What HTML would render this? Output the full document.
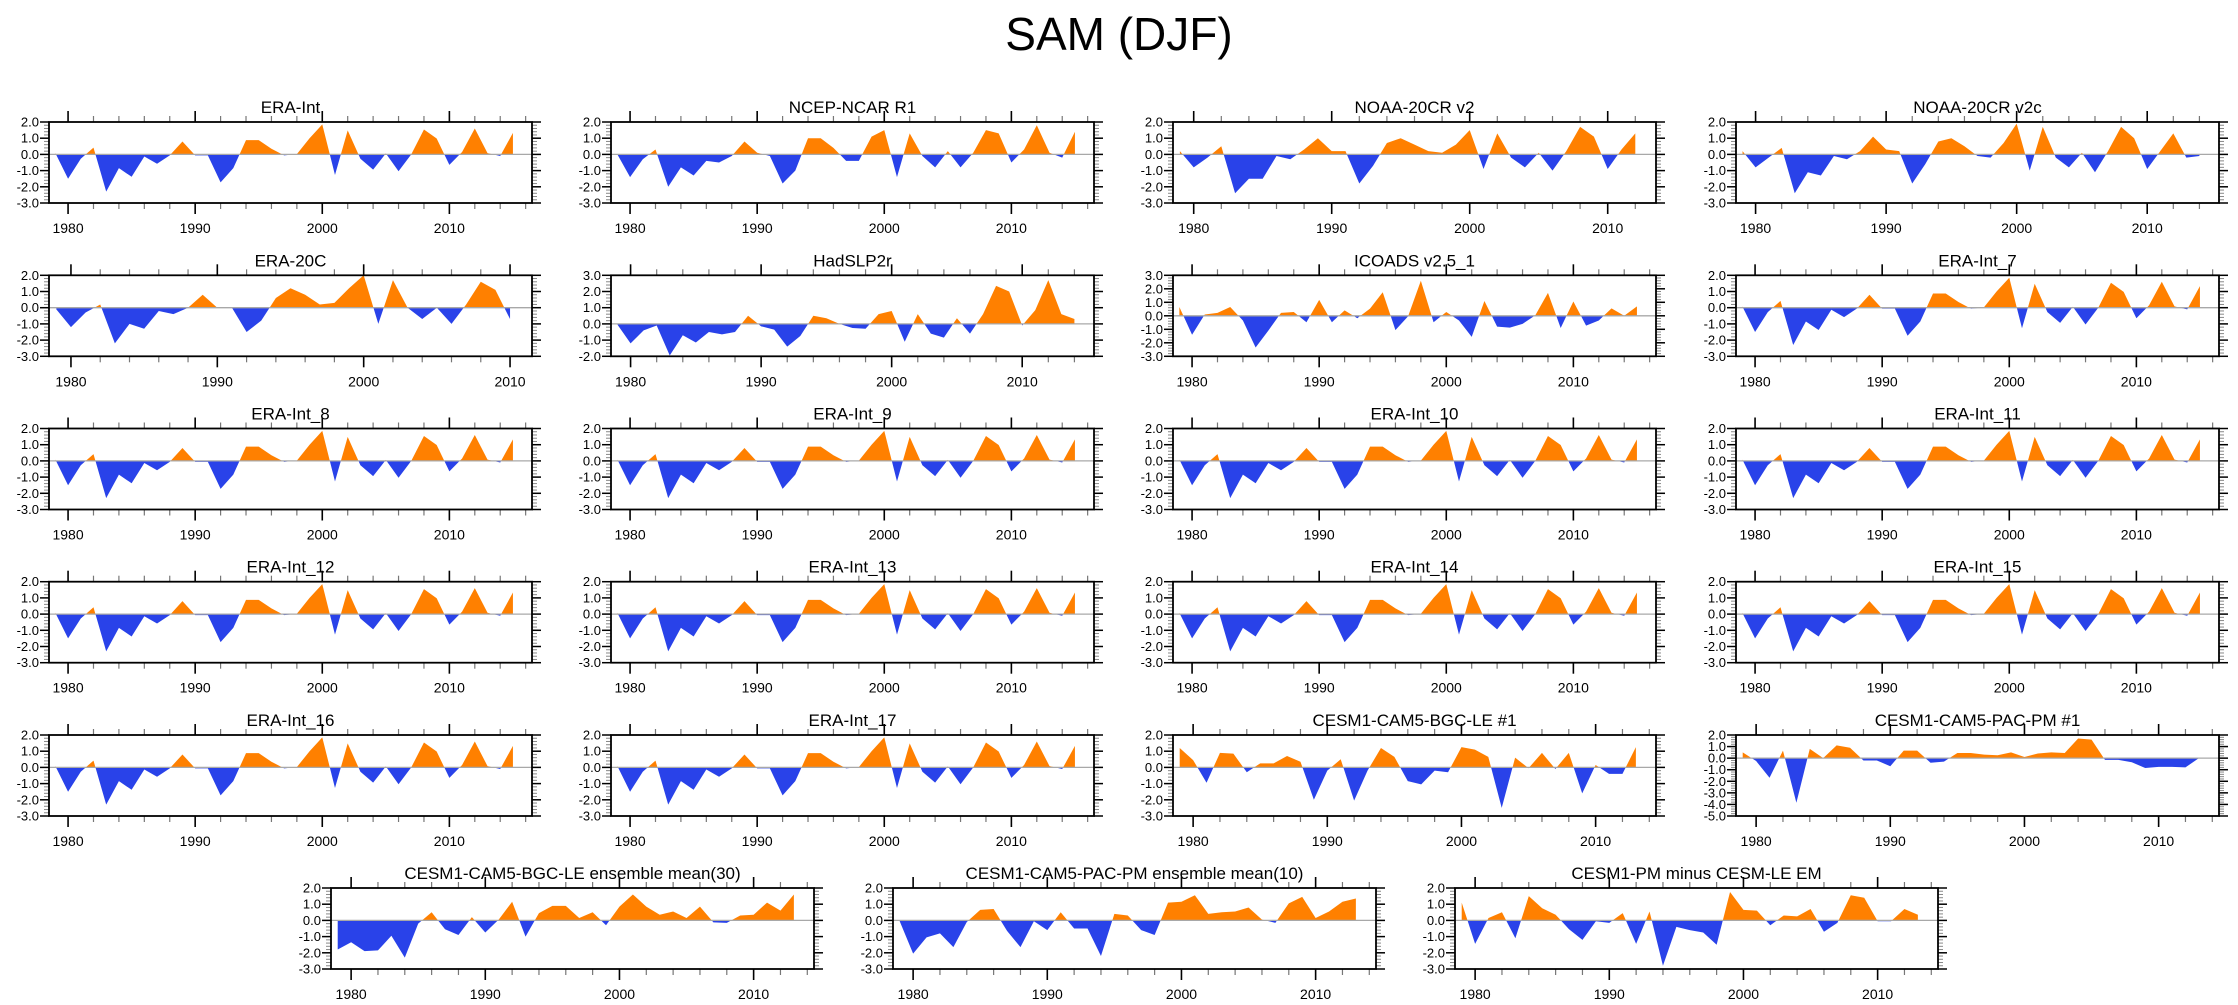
<!DOCTYPE html>
<html><head><meta charset="utf-8"><title>SAM (DJF)</title>
<style>
html,body{margin:0;padding:0;background:#fff;}
body{width:2238px;height:1005px;overflow:hidden;}
svg{display:block;font-family:"Liberation Sans",sans-serif;}
</style></head>
<body>
<svg id="fig" width="2238" height="1005" viewBox="0 0 2238 1005" xmlns="http://www.w3.org/2000/svg">
<text x="1119" y="50" text-anchor="middle" font-size="46">SAM (DJF)</text>
</svg>
<script>
const startYear = 1979;
const sEraInt = [0.08,-1.5,-0.27,0.42,-2.3,-0.85,-1.38,-0.13,-0.58,-0.06,0.8,-0.06,-0.06,-1.73,-0.85,0.88,0.88,0.35,-0.06,0.02,1.0,1.85,-1.27,1.48,-0.27,-0.94,0.06,-1.04,0,1.54,0.98,-0.65,0.15,1.6,0.08,-0.1,1.33];
const sNcep = [0.0,-1.4,-0.3,0.3,-2.0,-0.8,-1.3,-0.4,-0.5,-0.1,0.8,0.1,-0.1,-1.8,-1.0,1.0,1.0,0.4,-0.4,-0.4,1.1,1.5,-1.4,1.3,-0.1,-0.8,0.2,-0.8,0.1,1.5,1.3,-0.5,0.3,1.8,0.1,-0.2,1.4];
const sNoaaV2 = [0.2,-0.8,-0.2,0.5,-2.4,-1.5,-1.5,-0.1,-0.3,0.3,1.0,0.2,0.2,-1.8,-0.7,0.7,1.0,0.6,0.2,0.1,0.6,1.5,-0.9,1.3,-0.2,-0.8,0.1,-1.0,0.2,1.7,1.1,-0.9,0.3,1.3];
const sNoaaV2c = [0.2,-0.8,-0.2,0.4,-2.4,-1.1,-1.3,-0.1,-0.3,0.2,1.1,0.3,0.2,-1.8,-0.6,0.8,1.0,0.5,-0.1,-0.2,0.7,1.9,-1.0,1.7,-0.2,-0.8,0.1,-1.1,0.2,1.7,1.0,-0.9,0.2,1.3,-0.2,-0.1];
const sEra20c = [-0.1,-1.2,-0.3,0.2,-2.2,-1.0,-1.3,-0.2,-0.4,0.0,0.8,0.0,0.0,-1.5,-0.8,0.6,1.2,0.8,0.2,0.3,1.2,2.0,-1.0,1.7,0.0,-0.7,0.0,-1.0,0.2,1.6,1.1,-0.7];
const sHad = [-0.05,-1.2,-0.4,-0.1,-1.95,-0.7,-1.15,-0.5,-0.65,-0.5,0.5,-0.15,-0.35,-1.4,-0.75,0.5,0.35,0,-0.25,-0.3,0.6,0.8,-1.1,0.6,-0.6,-0.85,0.35,-0.6,0.6,2.35,2.0,-0.1,0.85,2.7,0.6,0.3];
const sIcoads = [0.65,-1.4,0.1,0.22,0.65,-0.35,-2.35,-1.1,0.22,0.28,-0.48,1.18,-0.48,0.4,-0.18,0.53,1.74,-1.06,-0.03,2.6,-0.48,0.28,-0.35,-1.56,1.1,-0.8,-0.88,-0.6,0.03,1.7,-0.9,1.06,-0.73,-0.35,0.55,0,0.7];
const sBgc1 = [1.2,0.45,-0.95,0.9,0.85,-0.3,0.25,0.25,0.7,0.35,-2.0,-0.2,0.5,-2.05,-0.2,1.2,0.65,-0.85,-1.05,-0.2,-0.3,1.25,1.1,0.65,-2.5,0.6,-0.05,0.9,-0.1,0.9,-1.6,0.15,-0.4,-0.4,1.25];
const sPac1 = [0.5,-0.25,-1.7,0.65,-3.85,0.8,0,1.1,0.9,-0.2,-0.2,-0.7,0.65,0.65,-0.4,-0.3,0.45,0.45,0.3,0.25,0.5,0.1,0.4,0.5,0.45,1.7,1.6,-0.15,-0.15,-0.35,-0.85,-0.75,-0.75,-0.8,0];
const sBgcEm = [-1.8,-1.35,-1.9,-1.85,-0.95,-2.3,-0.2,0.5,-0.55,-0.9,0.2,-0.75,0.05,1.15,-1.0,0.45,0.9,0.9,0.15,0.5,-0.3,0.85,1.6,0.85,0.35,0.55,0.15,0.85,-0.12,-0.15,0.3,0.35,1.1,0.6,1.6];
const sPacEm = [-0.05,-2.05,-1.05,-0.8,-1.65,-0.1,0.65,0.7,-0.65,-1.65,-0.05,-0.6,0.5,-0.5,-0.5,-2.2,0.4,0.3,-0.6,-0.9,1.1,1.15,1.55,0.4,0.5,0.55,0.8,0.05,-0.15,1.05,1.45,0.15,0.55,1.15,1.35];
const sDiff = [1.1,-1.45,0.15,0.5,-1.1,1.5,0.75,0.35,-0.55,-1.2,-0.05,-0.15,0.45,-1.45,0.55,-2.8,-0.4,-0.6,-0.75,-1.5,1.75,0.65,0.6,-0.3,0.3,0.25,0.7,-0.7,-0.15,1.55,1.4,-0.05,-0.05,0.7,0.35];

const panelTitles = ["ERA-Int","NCEP-NCAR R1","NOAA-20CR v2","NOAA-20CR v2c","ERA-20C","HadSLP2r","ICOADS v2.5_1","ERA-Int_7","ERA-Int_8","ERA-Int_9","ERA-Int_10","ERA-Int_11","ERA-Int_12","ERA-Int_13","ERA-Int_14","ERA-Int_15","ERA-Int_16","ERA-Int_17","CESM1-CAM5-BGC-LE #1","CESM1-CAM5-PAC-PM #1","CESM1-CAM5-BGC-LE ensemble mean(30)","CESM1-CAM5-PAC-PM ensemble mean(10)","CESM1-PM minus CESM-LE EM"];
const panelSeries = [sEraInt,sNcep,sNoaaV2,sNoaaV2c,sEra20c,sHad,sIcoads,sEraInt,sEraInt,sEraInt,sEraInt,sEraInt,sEraInt,sEraInt,sEraInt,sEraInt,sEraInt,sEraInt,sBgc1,sPac1,sBgcEm,sPacEm,sDiff];
const panelYMax = [2,2,2,2,2,3,3,2,2,2,2,2,2,2,2,2,2,2,2,2,2,2,2];
const panelYMin = [-3,-3,-3,-3,-3,-2,-3,-3,-3,-3,-3,-3,-3,-3,-3,-3,-3,-3,-3,-5,-3,-3,-3];
const xTickYears = [1980,1990,2000,2010];

const NS = "http://www.w3.org/2000/svg";
const svg = document.getElementById("fig");
const colLeft = [49,611,1173,1736];
const rowTop = [122,275.3,428.5,581.7,735];
const bottomLeft = [331,893,1455];
const bottomTop = 888;
const W = 483, H = 81;
const ORANGE = "#ff8000", BLUE = "#2942e9";

function mk(tag, attrs, parent){
  const e = document.createElementNS(NS, tag);
  for (const k in attrs) e.setAttribute(k, attrs[k]);
  parent.appendChild(e);
  return e;
}

function drawPanel(i, left, top){
  const data = panelSeries[i];
  const yMax = panelYMax[i], yMin = panelYMin[i];
  const xMin = startYear - 0.5;
  const xMax = startYear + data.length - 1 + 1.5;
  const sx = y => left + (y - xMin) / (xMax - xMin) * W;
  const sy = v => top + (yMax - v) / (yMax - yMin) * H;

  const g = document.createElementNS(NS, "g");
  
  
  svg.appendChild(g);

  const t = mk("text", {x: left + W/2, y: top - 9, "text-anchor": "middle", "font-size": 17}, g);
  
  
  t.textContent = panelTitles[i];

  // points with zero crossings
  const pts = [];
  for (let k = 0; k < data.length; k++){
    const yr = startYear + k, v = data[k];
    if (k > 0){
      const pv = data[k-1];
      if ((pv > 0 && v < 0) || (pv < 0 && v > 0)){
        const f = pv / (pv - v);
        pts.push([yr - 1 + f, 0]);
      }
    }
    pts.push([yr, v]);
  }
  const x0 = pts[0][0], x1 = pts[pts.length-1][0];
  let pos = `M${sx(x0)},${sy(0)} `, neg = `M${sx(x0)},${sy(0)} `;
  for (const p of pts){
    pos += `L${sx(p[0]).toFixed(2)},${sy(Math.max(p[1],0)).toFixed(2)} `;
    neg += `L${sx(p[0]).toFixed(2)},${sy(Math.min(p[1],0)).toFixed(2)} `;
  }
  pos += `L${sx(x1)},${sy(0)} Z`; neg += `L${sx(x1)},${sy(0)} Z`;
  const pp = mk("path", {d: pos, fill: ORANGE}, g);
  
  
  const np = mk("path", {d: neg, fill: BLUE}, g);
  
  

  const zl = mk("line", {x1: left, x2: left + W, y1: sy(0), y2: sy(0), stroke: "#a8a8a8", "stroke-width": 1.3}, g);
  
  

  // x ticks (top and bottom, outward)
  for (let yr = 1980; yr <= xMax; yr += 2){
    const x = sx(yr), major = (yr % 10 === 0);
    const len = major ? 11 : 6;
    const c = major ? "#000" : "#777";
    mk("line", {x1: x, x2: x, y1: top, y2: top - len, stroke: c, "stroke-width": major ? 1.6 : 1.2}, g);
    mk("line", {x1: x, x2: x, y1: top + H, y2: top + H + len, stroke: c, "stroke-width": major ? 1.6 : 1.2}, g);
  }
  for (const yr of xTickYears){
    if (yr > xMax) continue;
    const lt = mk("text", {x: sx(yr), y: top + H + 30, "text-anchor": "middle", "font-size": 14}, g);
    
    
    lt.textContent = yr;
  }
  // y ticks
  for (let v = yMin; v <= yMax + 1e-6; v += 0.2){
    const vv = Math.round(v*10)/10;
    const y = sy(vv), major = Math.abs(vv - Math.round(vv)) < 1e-6;
    const len = major ? 9 : 5;
    const c = major ? "#000" : "#888";
    mk("line", {x1: left, x2: left - len, y1: y, y2: y, stroke: c, "stroke-width": major ? 1.5 : 1}, g);
    mk("line", {x1: left + W, x2: left + W + len, y1: y, y2: y, stroke: c, "stroke-width": major ? 1.5 : 1}, g);
  }
  for (let v = yMax; v >= yMin; v -= 1){
    const yl = mk("text", {x: left - 10, y: sy(v) + 4.5, "text-anchor": "end", "font-size": 13}, g);
    
    
    yl.textContent = v.toFixed(1);
  }
  const box = mk("rect", {x: left, y: top, width: W, height: H, fill: "none", stroke: "#000", "stroke-width": 1.8}, g);
  
  
}

for (let i = 0; i < 20; i++){
  drawPanel(i, colLeft[i % 4], rowTop[Math.floor(i / 4)]);
}
for (let j = 0; j < 3; j++){
  drawPanel(20 + j, bottomLeft[j], bottomTop);
}
</script>
</body></html>
